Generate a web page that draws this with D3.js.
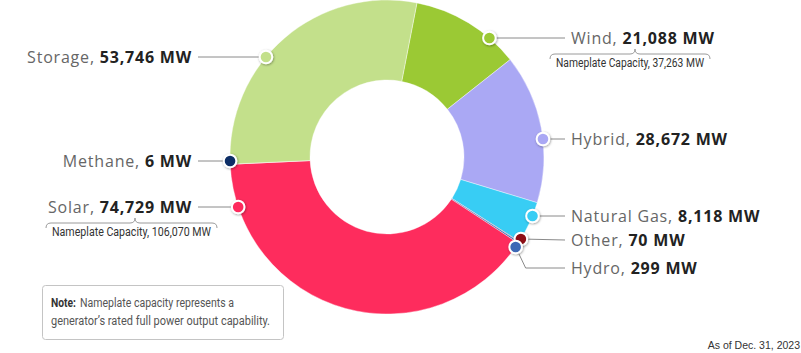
<!DOCTYPE html>
<html>
<head>
<meta charset="utf-8">
<script src="https://cdn.jsdelivr.net/npm/d3@7"></script>
<style>
  html, body { margin: 0; padding: 0; background: #fff; }
  svg { display: block; }
</style>
</head>
<body>
<svg id="chart" width="801" height="353"></svg>
<script>
// capacity by source, clockwise from the top of the ring
const categories = ["Wind", "Hybrid", "Natural Gas", "Other", "Hydro", "Solar", "Methane", "Storage"];
const capacityMW = [21088, 28672, 8118, 70, 299, 74729, 6, 53746];
const nameplateMW = [37263, null, null, null, null, 106070, null, null];
const sliceColors = ["#9bc934", "#aaa8f4", "#38cdf4", "#8e0b12", "#3c67b5", "#fe2c5d", "#0c2d66", "#c3e08b"];
const noteLabel = "Note:";
const noteText = ["Nameplate capacity represents a", "generator\u2019s rated full power output capability."];
const asOfText = "As of Dec. 31, 2023";

const data = categories.map((c, i) => ({ name: c, value: capacityMW[i], nameplate: nameplateMW[i], color: sliceColors[i] }));

const svg = d3.select("#chart");
const width = 801, height = 353;
const cx = 387, cy = 157, outerR = 157, innerR = 77;

svg.append("rect").attr("width", width).attr("height", height).attr("fill", "#fff");

const defs = svg.append("defs");
defs.append("filter").attr("id", "dotShadow")
    .attr("x", "-50%").attr("y", "-50%").attr("width", "200%").attr("height", "200%")
    .append("feDropShadow")
    .attr("dx", 0.6).attr("dy", 0.8).attr("stdDeviation", 0.9)
    .attr("flood-color", "#000").attr("flood-opacity", 0.4);

const fmt = d3.format(",");
const deg = Math.PI / 180;
const narrowFont = "'Roboto', 'Liberation Sans', sans-serif";

const pie = d3.pie().value(d => d.value).sort(null)
    .startAngle(11 * deg).endAngle(371 * deg);
const arc = d3.arc().innerRadius(innerR).outerRadius(outerR);

const g = svg.append("g").attr("transform", `translate(${cx},${cy})`);
const arcs = pie(data);

g.selectAll("path.slice")
    .data(arcs)
    .join("path")
    .attr("class", "slice")
    .attr("d", arc)
    .attr("fill", d => d.data.color)
    .attr("stroke", "#fff")
    .attr("stroke-width", 0.4);

// label layout: text row (y) and where the marker sits on the rim
const labelRow = { "Wind": 38, "Hybrid": 139, "Natural Gas": 216, "Other": 240, "Hydro": 268, "Solar": 207, "Methane": 161, "Storage": 57 };
const dotRow = { "Other": 239, "Hydro": 247 };
const rightText = 571, rightLineEnd = 565, leftText = 192, leftLineEnd = 198;

const labels = svg.append("g");

arcs.forEach(a => {
    const d = a.data;
    const mid = (a.startAngle + a.endAngle) / 2;
    const right = Math.sin(mid) > 0;
    const ty = labelRow[d.name];
    const dy = (dotRow[d.name] ?? ty) - cy;
    const dx = Math.sqrt(outerR * outerR - dy * dy) * (right ? 1 : -1);
    const px = cx + dx, py = cy + dy;

    // leader
    let pts;
    if (Math.abs(py - ty) > 1) {
        pts = [[px, py], [px + 10, ty], [rightLineEnd, ty]];
    } else {
        pts = [[px, py], [right ? rightLineEnd : leftLineEnd, ty]];
    }
    labels.append("path")
        .attr("d", d3.line()(pts))
        .attr("fill", "none")
        .attr("stroke", "#8a8a8a")
        .attr("stroke-width", 1);

    const t = labels.append("text")
        .attr("x", right ? rightText : leftText)
        .attr("y", ty + 6)
        .attr("text-anchor", right ? "start" : "end")
        .style("font-family", "'Open Sans', sans-serif")
        .style("font-size", "16px")
        .style("letter-spacing", "0.8px");
    t.append("tspan").attr("fill", "#666").text(d.name + ", ");
    t.append("tspan").attr("fill", "#222").attr("font-weight", 700).text(fmt(d.value) + " MW");

    d.dot = [px, py];
});

// markers drawn after leaders
labels.selectAll("circle.dot")
    .data(arcs)
    .join("circle")
    .attr("class", "dot")
    .attr("cx", d => d.data.dot[0])
    .attr("cy", d => d.data.dot[1])
    .attr("r", 6.3)
    .attr("fill", d => d.data.color)
    .attr("stroke", "#fff")
    .attr("stroke-width", 2)
    .attr("filter", "url(#dotShadow)");

// nameplate brackets
const bracketPos = { "Wind": { x0: 550, x1: 710, y: 54, peak: 635 }, "Solar": { x0: 46, x1: 217, y: 223, peak: 135 } };
data.filter(d => d.nameplate).forEach(d => {
    const b = bracketPos[d.name];
    const p = d3.path();
    p.moveTo(b.x0, b.y + 5);
    p.quadraticCurveTo(b.x0, b.y, b.x0 + 5, b.y);
    p.lineTo(b.peak - 5, b.y);
    p.quadraticCurveTo(b.peak, b.y, b.peak, b.y - 5);
    p.quadraticCurveTo(b.peak, b.y, b.peak + 5, b.y);
    p.lineTo(b.x1 - 5, b.y);
    p.quadraticCurveTo(b.x1, b.y, b.x1, b.y + 5);
    svg.append("path").attr("d", p.toString())
        .attr("fill", "none").attr("stroke", "#9a9a9a").attr("stroke-width", 1);
    svg.append("text")
        .attr("x", b.x0 + 6)
        .attr("y", b.y + 13)
        .attr("textLength", b.x1 - b.x0 - 12)
        .attr("lengthAdjust", "spacingAndGlyphs")
        .style("font-family", narrowFont)
        .style("font-size", "12.5px")
        .attr("fill", "#333")
        .text(`Nameplate Capacity, ${fmt(d.nameplate)} MW`);
});

// note box
const note = svg.append("g");
note.append("rect")
    .attr("x", 42.5).attr("y", 285.5)
    .attr("width", 241).attr("height", 54)
    .attr("rx", 3)
    .attr("fill", "#fff")
    .attr("stroke", "#c4c4c4");
note.append("text")
    .attr("x", 51).attr("y", 307)
    .attr("textLength", 25)
    .attr("lengthAdjust", "spacingAndGlyphs")
    .style("font-family", narrowFont)
    .style("font-size", "12.5px")
    .attr("font-weight", 700)
    .attr("fill", "#333")
    .text(noteLabel);
const noteLines = [{ x: 80, w: 154 }, { x: 51, w: 219 }];
noteText.forEach((line, i) => {
    note.append("text")
        .attr("x", noteLines[i].x).attr("y", 307 + i * 18)
        .attr("textLength", noteLines[i].w)
        .attr("lengthAdjust", "spacingAndGlyphs")
        .style("font-family", narrowFont)
        .style("font-size", "12.5px")
        .attr("fill", "#555")
        .text(line);
});

svg.append("text")
    .attr("x", 800).attr("y", 349)
    .attr("text-anchor", "end")
    .style("font-family", "'Liberation Sans', Arial, sans-serif")
    .style("font-size", "10.5px")
    .attr("fill", "#333")
    .text(asOfText);
</script>
</body>
</html>
